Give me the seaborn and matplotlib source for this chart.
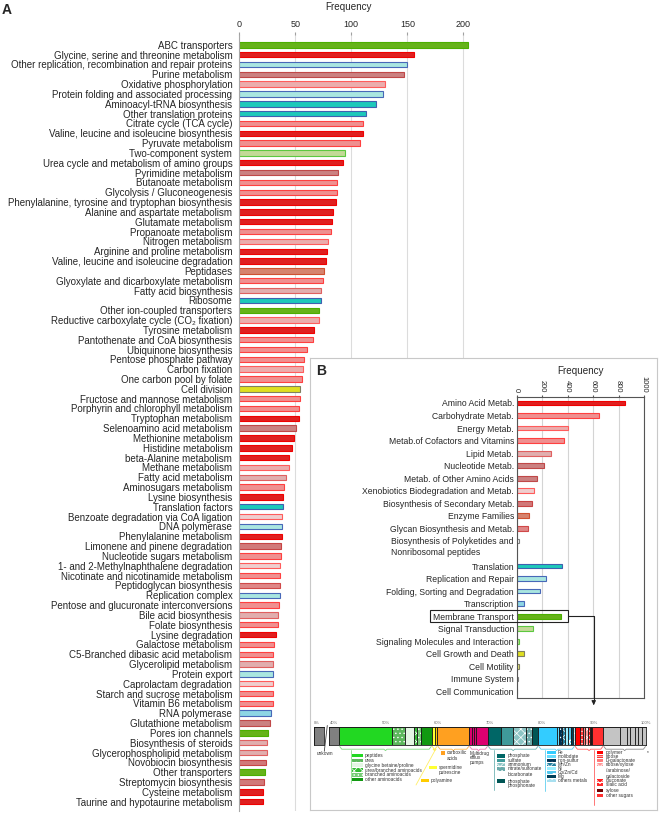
import numpy as np
import pandas as pd
import matplotlib.pyplot as plt
import seaborn as sns
from matplotlib.patches import Rectangle
from matplotlib.lines import Line2D
from matplotlib.transforms import blended_transform_factory

W, H = 661, 816

# ---- panel A : KEGG pathways
names_a = [
    'ABC transporters', 'Glycine, serine and threonine metabolism',
    'Other replication, recombination and repair proteins', 'Purine metabolism',
    'Oxidative phosphorylation', 'Protein folding and associated processing',
    'Aminoacyl-tRNA biosynthesis', 'Other translation proteins', 'Citrate cycle (TCA cycle)',
    'Valine, leucine and isoleucine biosynthesis', 'Pyruvate metabolism', 'Two-component system',
    'Urea cycle and metabolism of amino groups', 'Pyrimidine metabolism', 'Butanoate metabolism',
    'Glycolysis / Gluconeogenesis', 'Phenylalanine, tyrosine and tryptophan biosynthesis',
    'Alanine and aspartate metabolism', 'Glutamate metabolism', 'Propanoate metabolism',
    'Nitrogen metabolism', 'Arginine and proline metabolism',
    'Valine, leucine and isoleucine degradation', 'Peptidases',
    'Glyoxylate and dicarboxylate metabolism', 'Fatty acid biosynthesis', 'Ribosome',
    'Other ion-coupled transporters', 'Reductive carboxylate cycle (CO\u2082 fixation)',
    'Tyrosine metabolism', 'Pantothenate and CoA biosynthesis', 'Ubiquinone biosynthesis',
    'Pentose phosphate pathway', 'Carbon fixation', 'One carbon pool by folate', 'Cell division',
    'Fructose and mannose metabolism', 'Porphyrin and chlorophyll metabolism',
    'Tryptophan metabolism', 'Selenoamino acid metabolism', 'Methionine metabolism',
    'Histidine metabolism', 'beta-Alanine metabolism', 'Methane metabolism',
    'Fatty acid metabolism', 'Aminosugars metabolism', 'Lysine biosynthesis',
    'Translation factors', 'Benzoate degradation via CoA ligation', 'DNA polymerase',
    'Phenylalanine metabolism', 'Limonene and pinene degradation',
    'Nucleotide sugars metabolism', '1- and 2-Methylnaphthalene degradation',
    'Nicotinate and nicotinamide metabolism', 'Peptidoglycan biosynthesis',
    'Replication complex', 'Pentose and glucuronate interconversions',
    'Bile acid biosynthesis', 'Folate biosynthesis', 'Lysine degradation',
    'Galactose metabolism', 'C5-Branched dibasic acid metabolism', 'Glycerolipid metabolism',
    'Protein export', 'Caprolactam degradation', 'Starch and sucrose metabolism',
    'Vitamin B6 metabolism', 'RNA polymerase', 'Glutathione metabolism',
    'Pores ion channels', 'Biosynthesis of steroids', 'Glycerophospholipid metabolism',
    'Novobiocin biosynthesis', 'Other transporters', 'Streptomycin biosynthesis',
    'Cysteine metabolism', 'Taurine and hypotaurine metabolism']
values_a = [
    204, 156, 150, 147, 130, 128, 122, 113, 110, 110, 108, 94.5, 92.5, 88.5, 87.5,
    87.5, 86.5, 84, 83, 82, 79, 78.5, 77, 76, 75, 73, 73, 71, 71, 66.5, 66, 60, 58,
    57, 56, 54.5, 54.5, 53.5, 53.5, 50.5, 48.5, 47, 44.5, 44.5, 42, 40, 39, 39,
    38.5, 38, 38.5, 37, 37, 36, 36, 36, 36, 35.5, 34.3, 34.3, 32.5, 31.3, 30.4,
    30.4, 30.4, 29.8, 29.8, 29.8, 28.6, 27.4, 26, 24.5, 24.5, 23.8, 22.7, 22.4,
    21.2, 21.2]
groups_a = [
    'transport', 'aa', 'repl', 'nucl', 'energy', 'fold', 'translation', 'translation',
    'carb', 'aa', 'carb', 'signal', 'aa', 'nucl', 'carb', 'carb', 'aa', 'aa', 'aa',
    'carb', 'energy', 'aa', 'aa', 'enzyme', 'carb', 'lipid', 'translation', 'transport',
    'energy', 'aa', 'cof', 'cof', 'carb', 'energy', 'cof', 'cellgrowth', 'carb', 'cof',
    'aa', 'other_aa', 'aa', 'aa', 'aa', 'energy', 'lipid', 'carb', 'aa', 'translation',
    'xeno', 'repl', 'aa', 'sec', 'carb', 'xeno', 'cof', 'glycan', 'repl', 'carb',
    'lipid', 'cof', 'aa', 'carb', 'carb', 'lipid', 'fold', 'xeno', 'carb', 'cof',
    'transcription', 'other_aa', 'transport', 'lipid', 'lipid', 'sec', 'transport',
    'sec', 'aa', 'aa']

# ---- panel B : KEGG categories
names_b = [
    'Amino Acid Metab.', 'Carbohydrate Metab.', 'Energy Metab.',
    'Metab.of Cofactors and Vitamins', 'Lipid Metab.', 'Nucleotide Metab.',
    'Metab. of Other Amino Acids', 'Xenobiotics Biodegradation and Metab.',
    'Biosynthesis of Secondary Metab.', 'Enzyme Families', 'Glycan Biosynthesis and Metab.',
    'Biosynthesis of Polyketides and Nonribosomal peptides', 'Translation',
    'Replication and Repair', 'Folding, Sorting and Degradation', 'Transcription',
    'Membrane Transport', 'Signal Transduction', 'Signaling Molecules and Interaction',
    'Cell Growth and Death', 'Cell Motility', 'Immune System', 'Cell Communication']
values_b = [853, 644, 400, 369, 267, 215, 157, 138, 118, 94, 91, 20, 353, 230, 185, 60,
            346, 126, 20, 60, 18, 12, 4]
groups_b = ['aa', 'carb', 'energy', 'cof', 'lipid', 'nucl', 'other_aa', 'xeno', 'sec',
            'enzyme', 'glycan', 'polyk', 'translation', 'repl', 'fold', 'transcription',
            'transport', 'signal', 'signal_mol', 'cellgrowth', 'motility', 'immune', 'comm']

face = {'aa': '#ff0000', 'carb': '#ff8080', 'cof': '#ff8080', 'energy': '#f5a3a3',
        'lipid': '#eaa5a5', 'nucl': '#d87474', 'other_aa': '#d87474', 'xeno': '#f4c8c8',
        'sec': '#e06a6a', 'enzyme': '#e8785c', 'glycan': '#ee7878', 'polyk': '#ffffff',
        'transport': '#66cc00', 'signal': '#c6e48c', 'signal_mol': '#c6e48c',
        'translation': '#00e6d2', 'repl': '#9ff0e8', 'fold': '#9ff0e8',
        'transcription': '#7fe0f2', 'cellgrowth': '#ffff00', 'motility': '#ffff66',
        'immune': '#ffffff', 'comm': '#c0c0c0'}
edge = {'aa': '#f00000', 'carb': '#ff4040', 'cof': '#ff4040', 'energy': '#ff5c5c',
        'lipid': '#e06060', 'nucl': '#c04848', 'other_aa': '#c04848', 'xeno': '#ff5c5c',
        'sec': '#c84444', 'enzyme': '#d05030', 'glycan': '#d04848', 'polyk': '#808080',
        'transport': '#4caf00', 'signal': '#5cc840', 'signal_mol': '#5cc840',
        'translation': '#4060b0', 'repl': '#4868b8', 'fold': '#4868b8',
        'transcription': '#4868b8', 'cellgrowth': '#808060', 'motility': '#808060',
        'immune': '#808080', 'comm': '#808080'}

# ---- membrane transport breakdown (percent of genes)
seg_labels = ['unknown', 'peptides', 'urea', 'glycine betaine/proline',
              'urea/branched aminoacids', 'branched aminoacids', 'other aminoacids',
              'spermidine putrescine', 'polyamine', 'carboxilic acids',
              'multidrug efflux pumps', 'multidrug efflux pumps', 'multidrug efflux pumps',
              'multidrug efflux pumps', 'phosphate', 'sulfate', 'ammonium',
              'nitrate/sulfonate/bicarbonate', 'phosphate/phosphonate', 'Fe', 'molibdate',
              'iron-sulfur', 'Mn/Zn', 'Ni', 'Co/Zn/Cd', 'Mg', 'others metals', 'polymer',
              'ribose', 'D-galactonate', 'ribose/xylose/arabinose/galactoside', 'gluconate',
              'sialic acid', 'xylose', 'other sugars', 'other', 'other', 'other', 'other',
              'other', 'other', 'other']
seg_widths = [41, 10.1, 2.6, 1.6, 0.7, 0.7, 2.1, 0.6, 0.5, 6.1, 0.5, 0.4, 0.4, 2.3,
              2.5, 2.4, 2.5, 1.1, 1.2, 3.5, 0.5, 0.6, 0.5, 0.6, 0.6, 0.3, 0.4,
              1.0, 0.5, 0.5, 0.6, 0.3, 0.2, 0.2, 2.2, 3.2, 1.3, 0.6, 1.0, 0.6, 0.7, 0.8]
seg_groups = ['unknown'] + ['green'] * 6 + ['yellow'] * 2 + ['orange'] + ['magenta'] * 4 + \
             ['teal'] * 5 + ['cyan'] * 8 + ['red'] * 8 + ['grey'] * 7
seg_colors = ['#808080', '#22d822', '#5cb85c', '#e4f6e4', '#33bb33', '#77cc77', '#119911',
              '#ffff33', '#ffcc00', '#ffa020', '#dd0070', '#dd0070', '#dd0070', '#dd0070',
              '#006666', '#3f9a9a', '#8cc5c5', '#6aaaaa', '#005555', '#33ccff', '#66ddff',
              '#003355', '#1f7fa0', '#9beeff', '#55c8ee', '#00405a', '#a8e0f0', '#ff0000',
              '#ff3333', '#ff7777', '#ff9999', '#ff2020', '#ff2a2a', '#700000', '#ff3030'] + \
             ['#c4c4c4'] * 7
seg_hatch = ['', '', '....', '', 'xxxx', '....', '', '', '', '', '', '', '', '',
             '', '', 'xxxx', '....', '', '', '', '....', 'xxxx', '', 'oo', '', '....',
             '', '----', '....', 'xxxx', 'xxxx', '....', '', ''] + [''] * 7
bracket_col = {'green': '#7fd87f', 'yellow': '#ffe94d', 'orange': '#ffb347',
               'magenta': '#e67fb0', 'teal': '#6fb3b3', 'cyan': '#5fcfef',
               'red': '#ff5f5f', 'grey': '#8c8c8c'}

sns.set_style('white')
plt.rcParams['font.family'] = ['Liberation Sans', 'DejaVu Sans']
plt.rcParams['hatch.linewidth'] = 0.5

fig = plt.figure(figsize=(W / 100, H / 100), dpi=100)


def box(x0, y0, x1, y1):
    # pixel box (top-left origin) -> figure fraction rect
    return [x0 / W, 1 - y1 / H, (x1 - x0) / W, (y1 - y0) / H]


# ================= panel A
ax_a = fig.add_axes(box(239.3, 35, 472.3, 810.5), zorder=0)
df_a = pd.DataFrame({'pathway': names_a, 'freq': values_a, 'group': groups_a})
hue_a = list(dict.fromkeys(groups_a))
sns.barplot(data=df_a, x='freq', y='pathway', hue='group', hue_order=hue_a, order=names_a,
            palette={g: face[g] for g in hue_a}, dodge=False, width=0.55, errorbar=None,
            legend=False, linewidth=0.8, ax=ax_a)
for cont, g in zip(ax_a.containers, hue_a):
    for p in cont:
        p.set_edgecolor(edge[g])
ax_a.set_xlim(0, 208)
ax_a.set_ylim(77.9, -1.0)
ax_a.xaxis.tick_top()
ax_a.xaxis.set_label_position('top')
ax_a.set_xticks([0, 50, 100, 150, 200])
ax_a.set_xlabel('Frequency', fontsize=7.1, labelpad=7)
ax_a.xaxis.label.set_x(0.468)
ax_a.set_ylabel('')
ax_a.tick_params(axis='x', length=2, color='#a0a0a0', labelsize=6.5, pad=2.5)
ax_a.tick_params(axis='y', length=2.5, color='#a0a0a0', labelsize=7.0, pad=2.5)
ax_a.grid(axis='x', color='#dcdcdc', lw=0.8)
ax_a.set_axisbelow(True)
for s in ['top', 'right', 'bottom']:
    ax_a.spines[s].set_visible(False)
ax_a.spines['left'].set_color('#a8a8a8')
fig.text(2 / W, 1 - 10 / H, 'A', fontsize=10, fontweight='bold', va='center')

# ================= panel B frame
ax_box = fig.add_axes(box(310, 358, 657, 809.5), zorder=1)
ax_box.set_xticks([])
ax_box.set_yticks([])
for s in ax_box.spines.values():
    s.set_color('#c8c8c8')
    s.set_linewidth(0.8)
fig.text(316 / W, 1 - 371 / H, 'B', fontsize=10, fontweight='bold', va='center', zorder=6)

ax_b = fig.add_axes(box(516.7, 396.7, 644, 697.7), zorder=2)
order_b = names_b[:12] + [' '] + names_b[12:]
df_b = pd.DataFrame({'cat': names_b, 'freq': values_b, 'group': groups_b})
sns.barplot(data=df_b, x='freq', y='cat', hue='group', hue_order=groups_b, order=order_b,
            palette={g: face[g] for g in groups_b}, dodge=False, width=0.38, errorbar=None,
            legend=False, linewidth=0.8, ax=ax_b)
for cont, g in zip(ax_b.containers, groups_b):
    for p in cont:
        p.set_edgecolor(edge[g])
shown_b = ['Biosynthesis of Polyketides and' if n.startswith('Biosynthesis of Polyketides')
           else n.strip() for n in order_b]
ax_b.set_yticks(range(len(order_b)), labels=shown_b)
ax_b.set_xlim(0, 1000)
ax_b.set_ylim(len(order_b) - 0.5, -0.5)
ax_b.xaxis.tick_top()
ax_b.xaxis.set_label_position('top')
ax_b.set_xticks([0, 200, 400, 600, 800, 1000])
ax_b.set_xlabel('Frequency', fontsize=7.1, labelpad=1.5)
ax_b.set_ylabel('')
ax_b.tick_params(axis='x', length=1.5, color='#555555', labelsize=5.4, pad=1.5,
                 labelrotation=-90)
ax_b.tick_params(axis='y', length=0, labelsize=6.25, pad=2)
ax_b.grid(axis='x', color='#d4d4d4', lw=0.8)
ax_b.set_axisbelow(True)
for s in ax_b.spines.values():
    s.set_color('#555555')
    s.set_linewidth(0.8)

# ================= stacked bar (membrane transport)
ends = np.cumsum(seg_widths)
starts = ends - np.array(seg_widths)
ax_s = fig.add_axes(box(328.8, 727.3, 646, 745), zorder=2)
ax_u = fig.add_axes(box(314, 727.3, 324, 745), zorder=2)
for a in (ax_s, ax_u):
    for l, w, c, h in zip(starts, seg_widths, seg_colors, seg_hatch):
        a.barh(0, w, left=l, height=1, color=c, hatch=h, edgecolor='white', linewidth=0)
    a.barh(0, seg_widths, left=starts, height=1, fill=False, edgecolor='#1a1a1a',
           linewidth=0.5)
    a.set_ylim(-0.5, 0.5)
    a.set_yticks([])
    a.xaxis.tick_top()
    a.tick_params(axis='x', length=0, pad=2, labelsize=3, labelcolor='#666666')
    for s in a.spines.values():
        s.set_color('#1a1a1a')
        s.set_linewidth(0.6)
ax_s.set_xlim(39, 100)
ax_s.set_xticks(range(40, 101, 10), labels=[f'{p}%' for p in range(40, 101, 10)])
ax_u.set_xlim(0, 1.92)
ax_u.set_xticks([0], labels=['0%'])
for t in ax_u.get_xticklabels():
    t.set_ha('left')

# group brackets under the bar
tr = blended_transform_factory(ax_s.transData, fig.transFigure)
spans = pd.DataFrame({'g': seg_groups, 's': starts, 'e': ends}).groupby('g', sort=False)
for g, d in spans:
    if g == 'unknown':
        continue
    x0, x1 = max(d['s'].min(), 40.9), d['e'].max()
    xm = (x0 + x1) / 2
    xs = [x0 + 0.1, x0 + 0.5, xm - 0.3, xm, xm + 0.3, x1 - 0.5, x1 - 0.1]
    ys = [746.5, 749.2, 749.2, 750.6, 749.2, 749.2, 746.5]
    fig.add_artist(Line2D(xs, [1 - y / H for y in ys], transform=tr,
                          color=bracket_col[g], lw=0.6, zorder=5))


def swatch(x0, x1, yc, color, hatch=''):
    fig.add_artist(Rectangle((x0 / W, 1 - (yc + 1.6) / H), (x1 - x0) / W, 3.2 / H,
                             transform=fig.transFigure, facecolor=color,
                             edgecolor='white' if hatch else color, hatch=hatch,
                             lw=0, zorder=5))


def label(x, yc, s):
    fig.text(x / W, 1 - yc / H, s, fontsize=3.4, color='#333333', va='center',
             ha='left', zorder=6)


def line(xs, ys, color):
    fig.add_artist(Line2D([x / W for x in xs], [1 - y / H for y in ys],
                          color=color, lw=0.6, zorder=5))


# break mark and "unkown"
line([324.3, 327.3], [751.3, 725.5], '#404040')
label(316.5, 753.5, 'unkown')

# green legend
line([350.7, 350.7], [749.5, 783], '#88dd88')
for i, k in enumerate(range(1, 7)):
    y = 755.3 + 4.9 * i
    swatch(351.7, 362.7, y, seg_colors[k], seg_hatch[k])
    label(365, y, seg_labels[k])

# yellow / orange legend
line([435.5, 416], [749.5, 785], '#ffee66')
swatch(441, 444.5, 753, seg_colors[9])
label(446.5, 753, 'carboxilic')
label(446.5, 758.5, 'acids')
swatch(429, 437, 767.3, seg_colors[7])
label(439, 767.3, 'spermidine')
label(439, 772.3, 'putrescine')
swatch(421, 429, 780.5, seg_colors[8])
label(431, 780.5, 'polyamine')

# magenta
label(470, 753, 'Multidrug')
label(470, 757.7, 'efflux')
label(470, 762.5, 'pumps')

# teal
line([494, 494], [750, 790], '#6fb3b3')
teal_rows = [(756, 'phosphate', 14), (760.3, 'sulfate', 15), (764.6, 'ammonium', 16),
             (768.9, 'nitrate/sulfonate', 17), (775, 'bicarbonate', None),
             (781, 'phosphate', 18), (786, 'phosphonate', None)]
for y, s, k in teal_rows:
    if k is not None:
        swatch(496.7, 504.5, y, seg_colors[k], seg_hatch[k])
    label(507.7, y, s)

# cyan
line([545, 545], [750, 791], '#5fcfef')
for i, k in enumerate(range(19, 27)):
    y = 752.5 + 4 * i
    swatch(547.3, 555.7, y, seg_colors[k], seg_hatch[k])
    label(557.7, y, seg_labels[k])

# red
line([594.3, 594.3], [750, 805], '#ff6060')
red_rows = [(752.3, 'polymer', 27), (756.7, 'ribose', 28), (760.5, 'D-galactonate', 29),
            (764.5, 'ribose/xylose', 30), (770.3, '/arabinose/', None),
            (776.3, 'galactoside', None), (780.7, 'gluconate', 31),
            (784.5, 'sialic acid', 32), (790.7, 'xylose', 33), (795.3, 'other sugars', 34)]
for y, s, k in red_rows:
    if k is not None:
        swatch(596.7, 603.3, y, seg_colors[k], seg_hatch[k])
    label(605.7, y, s)
label(646.5, 752.5, '*')

# ---- wrapped label and Membrane Transport highlight in panel B
fig.canvas.draw()
rend = fig.canvas.get_renderer()
ylabels = ax_b.get_yticklabels()
i_poly = shown_b.index('Biosynthesis of Polyketides and')
bb = ylabels[i_poly].get_window_extent(rend)
fig.text(bb.x0 / W, ((bb.y0 + bb.y1) / 2 - 10.4) / H, 'Nonribosomal peptides',
         fontsize=6.25, ha='left', va='center', zorder=6)

i_mem = shown_b.index('Membrane Transport')
bm = ylabels[i_mem].get_window_extent(rend)
yc = ax_b.transData.transform((0, i_mem))[1]
xr = ax_b.transData.transform((400, i_mem))[0]
xa = ax_b.transData.transform((605, i_mem))[0]
fig.add_artist(Rectangle(((bm.x0 - 3) / W, (yc - 6) / H), (xr - bm.x0 + 3) / W, 12 / H,
                         transform=fig.transFigure, fill=False, ec='#222222', lw=0.8,
                         zorder=5))
fig.add_artist(Line2D([xr / W, xa / W, xa / W], [yc / H, yc / H, (H - 701) / H],
                      color='#222222', lw=0.8, zorder=5))
ax_b.annotate('', xy=(xa, H - 708), xycoords='figure pixels', xytext=(xa, H - 700),
              textcoords='figure pixels', annotation_clip=False,
              arrowprops=dict(arrowstyle='-|>', color='#222222', lw=0.8, mutation_scale=6))

fig.savefig('out.png', dpi=100)
